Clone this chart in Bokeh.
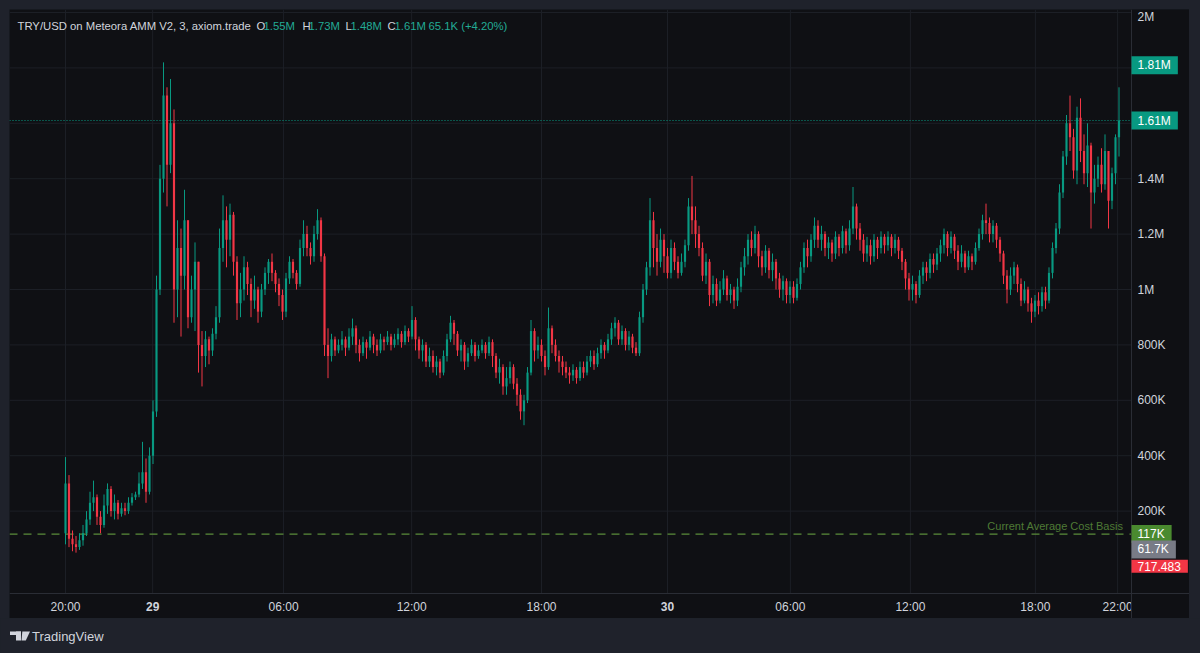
from bokeh.plotting import figure
from bokeh.models import ColumnDataSource, Span, Label, Range1d
from bokeh.core.properties import value
from bokeh.layouts import column
from bokeh.embed import file_html
from bokeh.resources import INLINE

# ---------------- data (values in thousands of USD) ----------------
first_open_k = 120
close_k = [
    300, 100, 80, 70, 95, 120, 170, 230, 250, 180, 150, 220, 280, 200, 230, 190, 210, 200, 230, 250, 260, 300, 340, 270, 400, 560,
    1000, 1400, 1700, 1450, 1600, 1000, 1150, 1050, 1250, 900, 1000, 1100, 800, 760, 820, 780, 840, 900, 1150, 1250, 1180, 1270,
    1100, 950, 1000, 1080, 1020, 960, 1000, 920, 1000, 1060, 1100, 1060, 1020, 980, 920, 1040, 1100, 1060, 1020, 1150, 1200, 1150,
    1120, 1200, 1250, 1120, 800, 760, 820, 780, 800,
    820, 790, 830, 860, 800, 770, 810, 790, 830, 800,
    780, 820, 810, 830, 800, 820, 840, 810, 850, 830,
    890, 820, 780, 800, 740, 760, 720, 740, 700, 760,
    820, 880, 840, 780, 800, 740, 770, 800, 760, 780,
    800, 770, 810, 760, 700, 720, 650, 680, 720, 660,
    620, 560, 600, 700, 850, 780, 800, 760, 720, 860,
    800, 760, 740, 720, 700, 690, 710, 680, 720, 700,
    740, 760, 730, 770, 800, 780, 820, 860, 880, 820,
    850, 800, 830, 790, 770, 900,
    1000, 1080, 1250, 1150, 1100, 1180, 1120, 1060, 1150, 1100,
    1060, 1100, 1160, 1300, 1250, 1200, 1150, 1050, 1100, 980,
    1020, 960, 1000, 1040, 980, 1000, 960, 1010, 1080, 1120,
    1180, 1150, 1200, 1120, 1080, 1140, 1070, 1100, 1040, 1000,
    1030, 980, 1010, 970, 1020, 1080, 1150, 1120, 1180, 1230,
    1180, 1200, 1150, 1170, 1130, 1190, 1150, 1210, 1160, 1220,
    1300, 1220, 1180, 1130, 1160, 1120, 1180, 1150, 1190, 1160,
    1190, 1150, 1180, 1140, 1100, 1040, 1000, 1020, 980, 1050,
    1080, 1060, 1110, 1090, 1130, 1160, 1200, 1150, 1190, 1140,
    1100, 1130, 1080, 1120, 1100, 1150, 1200, 1250, 1240, 1200,
    1230, 1180, 1130, 1050, 1000, 1050, 1080, 1020, 960, 1000,
    950, 920, 960, 940, 990, 960, 1060, 1150, 1220,
    1350, 1480, 1600, 1550, 1430, 1620, 1500, 1420, 1520, 1350, 1400, 1450, 1380, 1500, 1320, 1420, 1550, 1610,
]
high_k = [
    395, 330, 130, 110, 120, 150, 200, 270, 310, 260, 200, 260, 300, 290, 260, 240, 230, 230, 250, 265, 270, 340, 450, 390, 430, 600,
    1050, 1450, 1820, 1730, 1760, 1650, 1250, 1220, 1360, 1250, 1050, 1170, 1100, 850, 850, 830, 860, 940, 1220, 1340, 1300, 1310,
    1280, 1120, 1060, 1120, 1100, 1040, 1050, 1010, 1020, 1080, 1110, 1130, 1070, 1040, 1000, 1060, 1120, 1110, 1070, 1180, 1250, 1230,
    1170, 1230, 1290, 1260, 1130, 860, 840, 830, 820,
    850, 830, 860, 895, 870, 820, 830, 820, 850, 840,
    820, 840, 830, 850, 840, 840, 860, 850, 870, 860,
    940, 900, 830, 820, 810, 790, 780, 760, 750, 780,
    840, 905, 890, 850, 820, 810, 790, 820, 810, 800,
    820, 810, 830, 820, 770, 750, 730, 720, 740, 730,
    680, 640, 620, 720, 890, 860, 830, 820, 780, 935,
    870, 820, 780, 760, 740, 720, 730, 720, 740, 740,
    760, 780, 780, 790, 820, 810, 840, 880, 900, 890,
    870, 860, 850, 840, 810, 920,
    1020, 1100, 1330, 1280, 1200, 1220, 1200, 1150, 1180, 1170,
    1120, 1130, 1180, 1330, 1410, 1300, 1230, 1170, 1130, 1110,
    1050, 1040, 1030, 1070, 1050, 1020, 1010, 1040, 1100, 1150,
    1200, 1210, 1230, 1210, 1140, 1160, 1150, 1130, 1110, 1060,
    1050, 1040, 1030, 1030, 1040, 1100, 1170, 1180, 1200, 1260,
    1250, 1230, 1210, 1190, 1180, 1210, 1200, 1230, 1220, 1250,
    1370, 1310, 1240, 1200, 1190, 1180, 1200, 1190, 1210, 1200,
    1210, 1200, 1200, 1190, 1150, 1110, 1060, 1050, 1030, 1070,
    1100, 1100, 1130, 1130, 1150, 1180, 1220, 1210, 1210, 1200,
    1160, 1160, 1140, 1140, 1130, 1170, 1220, 1270, 1310, 1260,
    1250, 1240, 1190, 1140, 1070, 1080, 1100, 1090, 1040, 1030,
    1010, 970, 980, 990, 1010, 1010, 1080, 1170, 1240,
    1380, 1500, 1630, 1700, 1580, 1660, 1690, 1560, 1600, 1530, 1450, 1480, 1510, 1560, 1480, 1440, 1560, 1730,
]
low_k = [
    80, 70, 55, 50, 60, 75, 110, 150, 200, 150, 120, 140, 190, 180, 170, 170, 180, 185, 190, 220, 240, 250, 280, 230, 260, 370,
    540, 980, 1350, 1300, 1420, 880, 900, 830, 1000, 860, 880, 850, 700, 650, 720, 730, 760, 820, 880, 1100, 1080, 1120,
    1050, 890, 900, 960, 980, 900, 930, 880, 900, 980, 1020, 1030, 990, 940, 890, 900, 1020, 1040, 1000, 1010, 1120, 1120,
    1090, 1100, 1180, 1100, 760, 680, 740, 760, 770,
    780, 760, 780, 800, 770, 740, 760, 750, 780, 770,
    760, 770, 780, 800, 780, 790, 800, 790, 800, 810,
    820, 780, 750, 740, 720, 720, 700, 690, 680, 690,
    740, 810, 800, 760, 740, 710, 720, 760, 740, 750,
    770, 750, 760, 720, 680, 660, 620, 620, 660, 640,
    580, 530, 510, 590, 690, 740, 750, 740, 690, 710,
    770, 740, 700, 690, 680, 660, 670, 660, 670, 680,
    690, 720, 710, 720, 750, 750, 770, 800, 830, 800,
    800, 780, 780, 770, 760, 760,
    880, 980, 1050, 1080, 1050, 1080, 1060, 1040, 1040, 1070,
    1040, 1050, 1080, 1140, 1200, 1150, 1120, 1030, 1020, 940,
    950, 940, 950, 980, 960, 950, 930, 940, 990, 1050,
    1090, 1120, 1130, 1080, 1050, 1060, 1040, 1030, 1000, 970,
    960, 950, 950, 950, 960, 1000, 1060, 1080, 1100, 1150,
    1150, 1140, 1120, 1110, 1100, 1110, 1120, 1130, 1130, 1140,
    1200, 1180, 1140, 1100, 1100, 1090, 1100, 1110, 1130, 1130,
    1140, 1120, 1130, 1110, 1070, 1000, 960, 960, 950, 970,
    1020, 1030, 1040, 1060, 1070, 1100, 1130, 1120, 1130, 1110,
    1070, 1080, 1060, 1070, 1070, 1090, 1140, 1180, 1200, 1170,
    1170, 1150, 1100, 1020, 950, 980, 1020, 990, 940, 950,
    920, 880, 900, 910, 920, 930, 950, 1040, 1130,
    1200, 1330, 1450, 1500, 1400, 1380, 1460, 1380, 1370, 1220, 1310, 1370, 1350, 1360, 1220, 1290, 1380, 1480,
]

# time axis: tick positions in candle-index units and their labels
time_tick_pos = [0, 24.9, 62.3, 98.9, 136.0, 172.0, 207.1, 241.4, 277.1, 300.6]
time_tick_labels = ["20:00", "29", "06:00", "12:00", "18:00", "30", "06:00", "12:00", "18:00", "22:00"]
day_labels = ["29", "30"]

# price axis ticks (K); 1.6M and 1.8M are hidden behind the price tags in the original
price_ticks_k = [200, 400, 600, 800, 1000, 1200, 1400, 1600, 1800, 2000]
price_tick_labels = ["200K", "400K", "600K", "800K", "1M", "1.2M", "1.4M", "", "", "2M"]

# price tags on the right scale
tag_values_k = [1810, 1610, 117, 61.7, 0.717483]
tag_texts = ["1.81M", "1.61M", "117K", "61.7K", "717.483"]
tag_colors = ["#089981", "#089981", "#4a8a2f", "#787b86", "#f23645"]

cost_basis_k = 117
last_close_k = 1610

header_title = "TRY/USD on Meteora AMM V2, 3, axiom.trade"
header_ohlc = [("O", "1.55M"), ("H", "1.73M"), ("L", "1.48M"), ("C", "1.61M")]
header_change = "65.1K (+4.20%)"

# ---------------- style / layout ----------------
OUTER = "#1f222b"
PANEL = "#0f1014"
GRID = "#1c1f26"
SEP = "#2a2d35"
TXT = "#d1d4dc"
UP = "#089981"
DOWN = "#f23645"
HDR_TEAL = "#22ab94"
FONT = "Liberation Sans"

# page-pixel geometry: panel 9..1189 x 9..618, plot area right edge 1131, time strip from 593
PX_PER_BAR, BAR0_PX = 3.5, 65.0
ZERO_PY, PY_PER_K = 566.0, 0.277
PLOT_RIGHT, PLOT_BOTTOM = 1131, 593
TOP_LABEL_MIN_PY = 16  # keep the topmost scale label inside the panel


def sx(px):
    return (px - BAR0_PX) / PX_PER_BAR


def sy(py):
    return (ZERO_PY - py) / PY_PER_K


X0, X1 = sx(9), sx(1189)
Y0, Y1 = sy(618), sy(9)

n = len(close_k)
opens = [first_open_k] + close_k[:-1]
highs = [max(h, o, c) for h, o, c in zip(high_k, opens, close_k)]
lows = [min(l, o, c) for l, o, c in zip(low_k, opens, close_k)]
src = ColumnDataSource(dict(
    x=list(range(n)),
    h=highs, l=lows,
    top=[max(o, c) for o, c in zip(opens, close_k)],
    bottom=[min(o, c) for o, c in zip(opens, close_k)],
    color=[UP if c >= o else DOWN for o, c in zip(opens, close_k)],
))

p = figure(width=1180, height=609, x_range=Range1d(X0, X1), y_range=Range1d(Y0, Y1),
           output_backend="svg", toolbar_location=None, x_axis_type=None, y_axis_type=None,
           background_fill_color=PANEL, border_fill_color=PANEL, outline_line_color=None,
           min_border=0)
p.margin = (9, 11, 0, 9)
p.grid.visible = False

# grid lines (from the tick arrays)
p.segment(x0=[X0] * len(price_ticks_k), y0=price_ticks_k, x1=[sx(PLOT_RIGHT)] * len(price_ticks_k),
          y1=price_ticks_k, line_color=GRID, line_width=1)
p.segment(x0=time_tick_pos, y0=[sy(PLOT_BOTTOM)] * len(time_tick_pos), x1=time_tick_pos,
          y1=[Y1] * len(time_tick_pos), line_color=GRID, line_width=1)

# reference lines
p.segment(x0=[X0], y0=[last_close_k], x1=[sx(PLOT_RIGHT)], y1=[last_close_k],
          line_color=UP, line_dash="1 2", line_width=1)
p.segment(x0=[X0], y0=[cost_basis_k], x1=[sx(PLOT_RIGHT)], y1=[cost_basis_k],
          line_color="#5b8c3a", line_dash="8 6", line_width=1.2)

# candles
p.segment("x", "h", "x", "l", color="color", line_width=1, source=src)
p.vbar(x="x", width=0.62, top="top", bottom="bottom", fill_color="color", line_color=None, source=src)

# time-scale labels
reg = [(t, lab) for t, lab in zip(time_tick_pos, time_tick_labels) if lab not in day_labels]
bold = [(t, lab) for t, lab in zip(time_tick_pos, time_tick_labels) if lab in day_labels]
p.text(x=[t for t, _ in reg], y=[sy(606)] * len(reg), text=[lab for _, lab in reg],
       text_color=TXT, text_font=value(FONT), text_font_size="12px",
       text_align="center", text_baseline="middle")
p.text(x=[t for t, _ in bold], y=[sy(606)] * len(bold), text=[lab for _, lab in bold],
       text_color=TXT, text_font=value(FONT), text_font_size="12px", text_font_style="bold",
       text_align="center", text_baseline="middle")

# price-scale column background (clips the last time label like the original)
p.quad(left=[sx(PLOT_RIGHT)], right=[X1], bottom=[Y0], top=[Y1], fill_color=PANEL, line_color=None)

# scale separators
p.add_layout(Span(location=sx(PLOT_RIGHT), dimension="height", line_color=SEP, line_width=1))
p.add_layout(Span(location=sy(PLOT_BOTTOM), dimension="width", line_color=SEP, line_width=1))

# price-scale labels
lab_pairs = [(t, lab) for t, lab in zip(price_ticks_k, price_tick_labels) if lab]
p.text(x=[sx(1137)] * len(lab_pairs), y=[min(t, sy(TOP_LABEL_MIN_PY)) for t, _ in lab_pairs],
       text=[lab for _, lab in lab_pairs],
       text_color=TXT, text_font=value(FONT), text_font_size="12px",
       text_align="left", text_baseline="middle")

# header legend
HY = sy(25)
HFS = "11.3px"
p.add_layout(Label(x=sx(17), y=HY, text=header_title, text_color=TXT, text_font=FONT,
                   text_font_size=HFS, text_baseline="middle", text_align="left"))
hx = [(256, 263), (302, 308), (345, 350), (387, 394)]
for (kx, vx), (k, v) in zip(hx, header_ohlc):
    p.add_layout(Label(x=sx(kx), y=HY, text=k, text_color=TXT, text_font=FONT,
                       text_font_size=HFS, text_baseline="middle", text_align="left"))
    p.add_layout(Label(x=sx(vx), y=HY, text=v, text_color=HDR_TEAL, text_font=FONT,
                       text_font_size=HFS, text_baseline="middle", text_align="left"))
p.add_layout(Label(x=sx(428), y=HY, text=header_change, text_color=HDR_TEAL, text_font=FONT,
                   text_font_size=HFS, text_baseline="middle", text_align="left"))

# cost basis caption
p.add_layout(Label(x=sx(1123), y=sy(525), text="Current Average Cost Basis", text_color="#4e7a35",
                   text_font=FONT, text_font_size="11px", text_baseline="middle", text_align="right"))

# price tags
for v, t, c in zip(tag_values_k, tag_texts, tag_colors):
    p.add_layout(Label(x=sx(PLOT_RIGHT), y=v, text=t, text_color="#ffffff", text_font=FONT,
                       text_font_size="12px", text_baseline="middle", text_align="left",
                       background_fill_color=c,
                       padding=dict(left=6, right=7, top=2, bottom=2)))

# footer with TradingView mark
f = figure(width=1200, height=35, x_range=Range1d(0, 1200), y_range=Range1d(35, 0),
           output_backend="svg", toolbar_location=None, x_axis_type=None, y_axis_type=None,
           background_fill_color=OUTER, border_fill_color=OUTER, outline_line_color=None, min_border=0)
f.quad(left=[9.5, 15.5], right=[20.5, 20.5], top=[13, 13], bottom=[16.5, 22], color=TXT, line_color=None)
f.patch([21.8, 29.5, 25.3, 21.0], [13, 13, 22, 22], color=TXT, line_color=None)
f.text(x=[31.5], y=[17.5], text=["TradingView"], text_color=TXT, text_font_size="13px",
       text_font=value(FONT), text_baseline="middle", text_align="left")

layout = column(p, f, styles={"background-color": OUTER}, spacing=0)
open("out.html", "w").write(file_html(layout, INLINE, title="TRY/USD"))
